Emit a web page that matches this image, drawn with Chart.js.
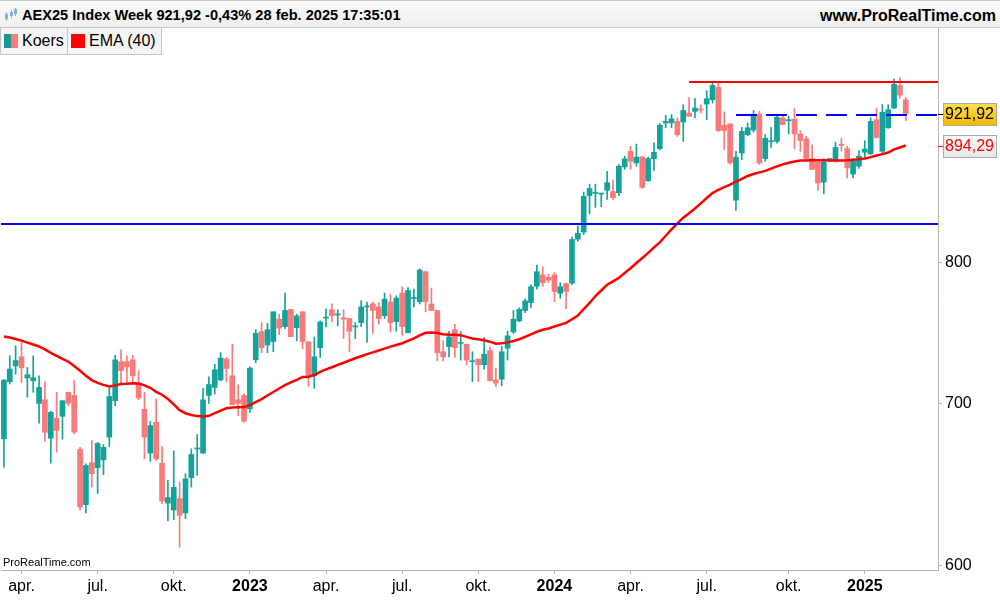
<!DOCTYPE html>
<html>
<head>
<meta charset="utf-8">
<script src="https://cdn.jsdelivr.net/npm/chart.js@4.4.1/dist/chart.umd.min.js"></script>
<style>
  body { margin: 0; background: #fff; font-family: 'Liberation Sans', Arial, sans-serif; }
  #wrap { position: relative; width: 1000px; height: 600px; overflow: hidden; }
  #c { position: absolute; left: 0; top: 0; }
  .header { position: absolute; left: 0; top: 0; width: 1000px; height: 28px; box-sizing: border-box;
    border-top: 1px solid #c8c8c8; border-bottom: 1px solid #c8c8c8;
    background: linear-gradient(#fafafa, #efefef); }
  .title { position: absolute; left: 22px; top: 6px; font-weight: bold; font-size: 14.6px; white-space: nowrap; }
  .site { position: absolute; right: 4px; top: 6px; font-weight: bold; font-size: 16px; white-space: nowrap; }
  .icon { position: absolute; left: 4px; top: 7px; }
  .legend { position: absolute; top: 27px; height: 28px; box-sizing: border-box; border: 1px solid #c4c4c4;
    background: #f4f4f4; font-size: 16px; line-height: 26px; white-space: nowrap; }
  .legend i { position: absolute; top: 6px; width: 14px; height: 14px; }
  .mark { position: absolute; left: 3px; top: 556px; font-size: 11px; }
</style>
</head>
<body>
<div id="wrap">
  <canvas id="c" width="1000" height="600"></canvas>
  <div class="header">
    <svg class="icon" width="14" height="14" viewBox="0 0 14 14">
      <rect x="1" y="6" width="3" height="5" fill="#7fb2e6"/><rect x="2" y="4" width="1" height="9" fill="#7fb2e6"/>
      <rect x="6" y="4" width="3" height="4" fill="#7fb2e6"/><rect x="7" y="2" width="1" height="8" fill="#7fb2e6"/>
      <rect x="10" y="1" width="3" height="5" fill="#7fb2e6"/><rect x="11" y="0" width="1" height="8" fill="#7fb2e6"/>
    </svg>
    <div class="title">AEX25 Index Week 921,92 -0,43% 28 feb. 2025 17:35:01</div>
    <div class="site">www.ProRealTime.com</div>
  </div>
  <div class="legend" style="left:0;width:68px;">
    <i style="left:3px;background:linear-gradient(90deg,#169a92 50%,#f87a7a 50%);"></i>
    <span style="position:absolute;left:21px;">Koers</span>
  </div>
  <div class="legend" style="left:67px;width:95px;">
    <i style="left:3px;background:#ff0000;"></i>
    <span style="position:absolute;left:21px;">EMA (40)</span>
  </div>
  <div class="mark">ProRealTime.com</div>
</div>
<script>
// weekly candles, first week starts Monday 14 March 2022
const firstWeek = '2022-03-14';
const weekCount = 155;
const emptyWeeks = 5;

const opens = [
  676.7, 714.4, 725.3, 731.6, 717.0, 715.1, 699.9, 702.3, 677.1, 690.1,
  691.4, 707.3, 705.2, 669.9, 635.7, 661.6, 658.4, 663.3, 677.8, 701.7,
  728.3, 728.3, 729.5, 713.0, 696.0, 667.6, 687.5, 661.2, 636.6, 632.5,
  639.3, 630.7, 652.2, 670.2, 667.6, 705.2, 710.6, 715.7, 730.0, 718.5,
  702.3, 705.2, 696.4, 729.5, 749.3, 739.9, 742.3, 758.2, 752.9, 765.3,
  752.2, 763.6, 742.1, 718.5, 738.0, 759.0, 765.1, 761.3, 759.3, 758.7,
  752.7, 755.7, 767.1, 769.3, 767.1, 760.8, 770.7, 756.4, 777.3, 748.5,
  773.2, 770.9, 793.2, 769.3, 764.5, 735.1, 738.7, 750.7, 741.0, 740.4,
  728.2, 730.0, 726.1, 736.0, 715.7, 716.2, 737.6, 749.1, 757.0, 764.5,
  770.3, 782.3, 790.8, 789.0, 790.8, 777.1, 784.3, 784.7, 818.1, 823.7,
  852.7, 854.5, 854.0, 857.0, 856.0, 855.1, 876.3, 889.4, 879.6, 884.5,
  864.9, 883.1, 891.6, 913.7, 913.7, 915.1, 914.5, 922.4, 923.8, 925.6,
  930.2, 934.1, 945.1, 911.7, 912.9, 849.0, 888.0, 903.6, 907.5, 921.4,
  883.3, 897.5, 897.8, 918.1, 915.7, 916.9, 904.2, 900.0, 883.3, 880.4,
  863.8, 881.6, 881.6, 895.5, 891.6, 870.4, 876.9, 888.6, 887.2, 916.5,
  889.4, 909.5, 926.7, 946.9, 934.1
];
const highs = [
  716.0, 732.3, 739.3, 741.6, 724.2, 732.2, 718.5, 714.4, 694.7, 707.3,
  701.7, 707.3, 715.6, 671.3, 660.8, 675.6, 674.5, 673.1, 710.6, 732.7,
  736.5, 732.2, 732.7, 722.0, 707.3, 688.0, 702.8, 671.8, 650.5, 669.1,
  649.5, 654.7, 670.3, 679.5, 710.0, 717.8, 726.5, 734.5, 731.1, 740.5,
  712.4, 706.3, 724.6, 750.7, 755.7, 755.3, 763.6, 761.8, 777.3, 765.3,
  761.8, 763.6, 742.1, 745.6, 757.0, 765.8, 769.3, 765.1, 765.1, 758.7,
  755.7, 771.5, 770.7, 770.7, 770.3, 777.3, 776.5, 775.3, 782.0, 781.3,
  780.2, 795.5, 793.7, 781.0, 764.5, 742.8, 749.6, 754.6, 749.3, 740.4,
  735.1, 730.0, 745.1, 738.5, 723.8, 738.8, 749.6, 764.5, 766.5, 772.8,
  783.4, 798.3, 797.1, 791.3, 792.5, 785.0, 784.7, 819.7, 828.5, 855.6,
  862.1, 862.1, 854.4, 872.6, 865.4, 878.3, 885.3, 893.6, 895.5, 885.3,
  884.5, 896.5, 913.2, 920.4, 921.0, 918.1, 929.7, 936.1, 935.4, 929.7,
  942.1, 948.9, 950.3, 923.3, 912.9, 889.4, 909.9, 913.7, 924.7, 923.8,
  903.6, 909.9, 921.0, 921.0, 919.5, 926.2, 907.0, 902.1, 895.0, 880.4,
  883.3, 883.3, 897.2, 900.5, 893.6, 883.3, 890.0, 898.4, 918.1, 926.7,
  929.7, 929.7, 952.7, 953.9, 936.1
];
const lows = [
  658.7, 712.9, 719.6, 713.9, 704.0, 707.3, 686.8, 675.1, 661.2, 668.2,
  676.5, 698.4, 680.0, 632.3, 630.7, 646.4, 642.4, 654.1, 671.8, 698.4,
  713.5, 713.5, 714.4, 702.3, 663.9, 662.4, 662.9, 636.3, 625.9, 626.7,
  610.5, 627.3, 646.4, 653.7, 667.6, 699.9, 706.2, 715.1, 714.6, 699.1,
  691.9, 687.5, 694.0, 727.4, 734.5, 734.5, 735.1, 747.3, 751.4, 745.7,
  742.8, 737.1, 711.3, 710.0, 731.1, 752.7, 756.3, 753.4, 744.4, 735.1,
  744.4, 752.9, 741.6, 748.0, 754.6, 758.7, 749.0, 749.6, 746.8, 748.5,
  767.1, 769.3, 763.5, 764.5, 728.8, 728.8, 731.6, 731.2, 729.3, 726.0,
  714.6, 714.6, 723.1, 715.1, 711.3, 711.8, 729.3, 748.0, 756.4, 763.0,
  766.5, 780.1, 782.3, 785.1, 770.9, 773.4, 765.9, 783.5, 816.6, 821.8,
  838.0, 843.2, 843.8, 849.6, 849.6, 852.6, 874.2, 874.2, 876.9, 858.5,
  864.4, 873.4, 890.9, 909.5, 909.5, 902.1, 897.8, 919.5, 918.1, 922.4,
  916.7, 931.1, 906.4, 890.9, 878.8, 840.8, 882.4, 902.8, 905.8, 878.3,
  881.0, 892.7, 896.3, 912.3, 904.2, 891.6, 889.4, 881.6, 874.2, 857.0,
  854.2, 880.4, 880.4, 889.4, 867.1, 867.1, 875.0, 884.5, 886.7, 900.6,
  888.0, 909.0, 926.2, 935.4, 915.8
];
const closes = [
  715.6, 723.1, 729.0, 724.0, 719.2, 717.2, 710.6, 681.0, 694.0, 682.1,
  701.7, 699.9, 681.0, 634.3, 659.8, 654.7, 673.7, 671.3, 704.5, 729.5,
  722.0, 724.6, 718.5, 703.5, 677.8, 685.3, 663.9, 637.9, 640.0, 646.2,
  629.3, 651.5, 666.7, 670.9, 702.3, 712.6, 722.7, 730.7, 723.5, 699.1,
  699.9, 688.1, 723.8, 748.1, 738.0, 750.7, 763.6, 751.8, 764.6, 745.7,
  760.6, 742.3, 718.0, 731.6, 756.2, 759.4, 760.8, 761.8, 758.3, 749.6,
  753.4, 767.1, 767.6, 764.5, 758.7, 772.8, 755.7, 773.6, 752.9, 779.2,
  773.8, 794.5, 770.9, 764.5, 734.5, 731.6, 745.6, 738.0, 741.5, 729.3,
  728.6, 726.1, 733.4, 715.1, 713.5, 735.1, 746.3, 758.2, 765.3, 771.5,
  782.0, 793.2, 785.0, 786.9, 778.4, 782.0, 778.4, 817.9, 822.7, 852.1,
  858.5, 855.1, 854.4, 863.3, 851.1, 876.9, 883.1, 881.0, 884.5, 859.5,
  883.3, 888.6, 911.7, 915.1, 917.2, 903.6, 924.7, 919.5, 926.7, 925.0,
  935.0, 946.9, 907.0, 907.2, 879.6, 884.5, 906.4, 909.5, 920.4, 879.6,
  900.5, 898.1, 918.6, 912.3, 916.3, 904.2, 898.6, 883.3, 874.2, 863.0,
  880.4, 883.3, 892.7, 894.4, 875.5, 881.0, 885.3, 891.3, 915.1, 901.3,
  923.0, 925.3, 948.0, 938.1, 921.92
];
const ema40 = [
  745.9, 745.1, 744.1, 742.9, 741.5, 740.2, 738.8, 736.8, 734.3, 732.3,
  730.2, 728.2, 725.2, 721.9, 718.6, 715.6, 713.7, 712.3, 711.2, 712.0,
  712.9, 713.1, 713.4, 713.3, 712.0, 710.4, 707.6, 705.7, 702.8, 699.3,
  695.4, 693.4, 692.2, 691.5, 691.2, 691.7, 693.4, 695.1, 696.7, 697.1,
  697.3, 697.5, 698.7, 700.8, 702.8, 705.2, 707.5, 709.9, 712.1, 714.0,
  715.7, 717.7, 717.9, 719.0, 721.2, 722.9, 724.4, 726.0, 727.5, 729.0,
  730.6, 732.0, 733.5, 734.7, 736.0, 737.3, 738.7, 739.9, 741.1, 742.8,
  744.5, 746.7, 748.5, 748.7, 748.4, 747.5, 747.1, 747.1, 746.8, 745.6,
  744.5, 743.9, 743.2, 742.2, 740.8, 741.0, 741.7, 742.7, 743.9, 745.6,
  747.4, 749.2, 750.6, 751.6, 753.0, 754.3, 755.6, 758.2, 760.8, 765.5,
  770.0, 775.0, 779.2, 783.5, 786.0, 788.6, 792.2, 795.8, 799.8, 803.6,
  807.6, 811.7, 815.6, 820.8, 825.8, 830.6, 835.0, 838.6, 842.4, 846.5,
  850.8, 854.8, 857.5, 859.7, 861.7, 864.1, 866.5, 868.8, 870.4, 871.8,
  873.0, 874.9, 876.8, 878.4, 879.8, 880.8, 881.6, 881.7, 881.8, 881.8,
  881.8, 881.6, 881.6, 881.6, 881.8, 882.2, 882.7, 883.4, 884.5, 885.9,
  887.0, 888.4, 891.0, 892.6, 894.29
];

const tickDates = ['2022-04-04', '2022-07-04', '2022-10-03', '2023-01-02', '2023-04-03', '2023-07-03',
  '2023-10-02', '2024-01-01', '2024-04-01', '2024-07-01', '2024-10-07', '2025-01-06'];
const tickLabels = ['apr.', 'jul.', 'okt.', '2023', 'apr.', 'jul.', 'okt.', '2024', 'apr.', 'jul.', 'okt.', '2025'];
const priceTicks = [600, 700, 800];

// drawn support / resistance levels
const levelValues = [950.3, 920.5, 830.0];
const levelFrom = ['2024-06-10', '2024-08-05', '2022-03-14'];

const UP = '#14a39a';
const DOWN = '#f87a7a';

const weeks = [];
const t0 = Date.parse(firstWeek + 'T00:00:00Z');
for (let i = 0; i < weekCount + emptyWeeks; i++) {
  weeks.push(new Date(t0 + i * 7 * 86400000).toISOString().slice(0, 10));
}
const candleColors = opens.map((o, i) => closes[i] >= o ? UP : DOWN);
const fmt = v => v.toFixed(2).replace('.', ',');

const levelLines = {
  id: 'levelLines',
  afterDatasetsDraw(chart) {
    const { ctx, chartArea, scales } = chart;
    const styles = [
      { color: '#ff0000', width: 2, dash: [] },
      { color: '#0000ff', width: 2, dash: [21, 9] },
      { color: '#0000ff', width: 2, dash: [] },
    ];
    ctx.save();
    ctx.beginPath();
    ctx.rect(chartArea.left, chartArea.top, chartArea.right - chartArea.left, chartArea.bottom - chartArea.top);
    ctx.clip();
    levelValues.forEach((v, i) => {
      const idx = weeks.indexOf(levelFrom[i]);
      const x0 = idx === 0 ? chartArea.left : scales.x.getPixelForValue(idx);
      const y = Math.round(scales.y.getPixelForValue(v));
      ctx.strokeStyle = styles[i].color;
      ctx.lineWidth = styles[i].width;
      ctx.setLineDash(styles[i].dash);
      ctx.beginPath();
      ctx.moveTo(x0, y);
      ctx.lineTo(chartArea.right, y);
      ctx.stroke();
    });
    ctx.restore();
  }
};

const priceTags = {
  id: 'priceTags',
  afterDraw(chart) {
    const { ctx, chartArea, scales } = chart;
    const tags = [
      { value: closes[closes.length - 1], fill: ['#ffe14d', '#f2b800'], text: '#000', tick: '#000' },
      { value: ema40[ema40.length - 1], fill: ['#ffffff', '#e6e6e6'], text: '#ff0000', tick: '#ff0000' },
    ];
    ctx.save();
    tags.forEach(t => {
      const y = Math.round(scales.y.getPixelForValue(t.value));
      const x = chartArea.right + 5;
      const g = ctx.createLinearGradient(0, y - 11, 0, y + 11);
      g.addColorStop(0, t.fill[0]);
      g.addColorStop(1, t.fill[1]);
      ctx.strokeStyle = t.tick;
      ctx.lineWidth = 1;
      ctx.beginPath();
      ctx.moveTo(chartArea.right, y + 0.5);
      ctx.lineTo(x, y + 0.5);
      ctx.stroke();
      ctx.fillStyle = g;
      ctx.fillRect(x, y - 11, 54, 23);
      ctx.strokeStyle = '#a8a8a8';
      ctx.strokeRect(x + 0.5, y - 10.5, 53, 22);
      ctx.fillStyle = t.text;
      ctx.font = '16px "Liberation Sans", Arial, sans-serif';
      ctx.textBaseline = 'middle';
      ctx.textAlign = 'left';
      ctx.fillText(fmt(t.value), x + 2, y + 1);
    });
    ctx.restore();
  }
};

new Chart(document.getElementById('c'), {
  type: 'bar',
  data: {
    labels: weeks,
    datasets: [
      {
        type: 'line',
        label: 'EMA (40)',
        data: ema40,
        borderColor: '#ff0000',
        borderWidth: 2.5,
        pointRadius: 0,
        tension: 0,
        order: 0,
      },
      {
        label: 'body',
        data: opens.map((o, i) => [o, closes[i]]),
        backgroundColor: candleColors,
        barThickness: 5,
        minBarLength: 1,
        grouped: false,
        order: 1,
      },
      {
        label: 'wick',
        data: lows.map((l, i) => [l, highs[i]]),
        backgroundColor: candleColors,
        barThickness: 1,
        grouped: false,
        order: 2,
      },
    ]
  },
  options: {
    responsive: false,
    animation: false,
    devicePixelRatio: 1,
    events: [],
    layout: { padding: { top: 28, left: 1, right: 0, bottom: 0 } },
    plugins: { legend: { display: false }, tooltip: { enabled: false } },
    scales: {
      x: {
        type: 'category',
        offset: true,
        grid: { drawOnChartArea: false, drawTicks: true, tickLength: 4, color: '#b4b4b4', offset: false },
        border: { color: '#b4b4b4' },
        afterBuildTicks: s => { s.ticks = tickDates.map(d => ({ value: weeks.indexOf(d) })); },
        afterFit: s => { s.height = 30; },
        ticks: {
          autoSkip: false,
          maxRotation: 0,
          minRotation: 0,
          padding: 3,
          color: '#000',
          font: ctx => ({
            family: '"Liberation Sans", Arial, sans-serif',
            size: 16,
            weight: /^\d{4}$/.test(tickLabels[ctx.index]) ? 'bold' : 'normal'
          }),
          callback: (v, i) => tickLabels[i],
        }
      },
      y: {
        type: 'logarithmic',
        position: 'right',
        min: 597.4,
        max: 1000,
        grid: { drawOnChartArea: false, drawTicks: true, tickLength: 4, color: '#b4b4b4' },
        border: { color: '#b4b4b4' },
        afterBuildTicks: s => { s.ticks = priceTicks.map(v => ({ value: v })); },
        afterFit: s => { s.width = 62; },
        ticks: {
          padding: 3,
          color: '#000',
          font: { family: '"Liberation Sans", Arial, sans-serif', size: 16 },
          callback: v => String(v),
        }
      }
    }
  },
  plugins: [levelLines, priceTags]
});
</script>
</body>
</html>
